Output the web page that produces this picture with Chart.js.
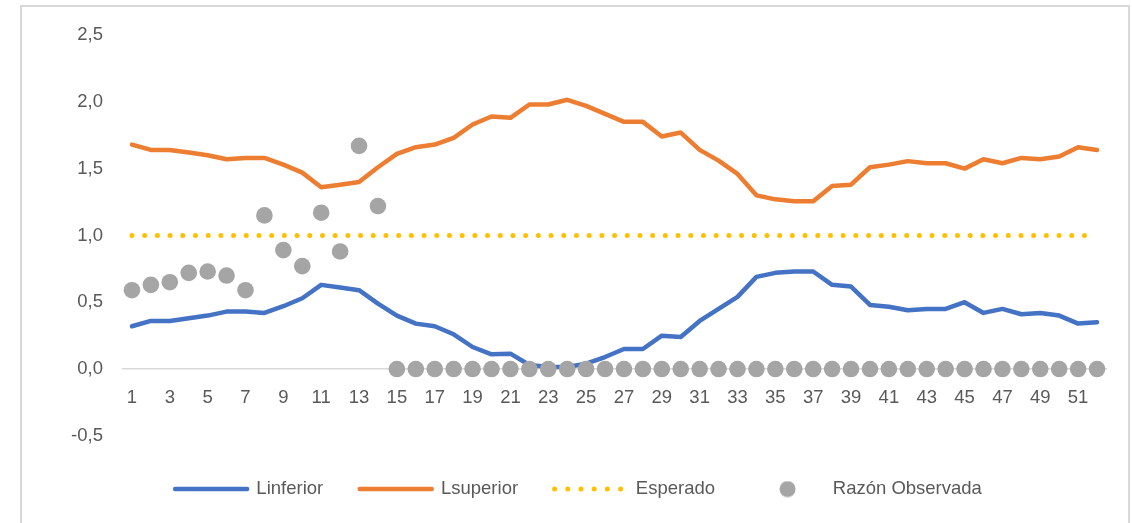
<!DOCTYPE html>
<html>
<head>
<meta charset="utf-8">
<script src="https://cdn.jsdelivr.net/npm/chart.js@4/dist/chart.umd.min.js"></script>
<style>
  html, body { margin: 0; padding: 0; background: #fff; }
  #wrap { position: relative; width: 1132px; height: 523px; overflow: hidden; }
  #frame { position: absolute; left: 20px; top: 5px; width: 1106px; height: 560px; border: 2px solid #D9D9D9; }
  #chart { position: absolute; left: 0; top: 0; }
</style>
</head>
<body>
<div id="wrap">
  <div id="frame"></div>
  <canvas id="chart" width="1132" height="523"></canvas>
</div>
<script>
// semanas 1..52
const semanas = [];
for (let i = 1; i <= 52; i++) semanas.push(String(i));

const lInferior = [
  0.32, 0.36, 0.36, 0.38, 0.40, 0.43, 0.43, 0.42, 0.47, 0.53,
  0.63, 0.61, 0.59, 0.49, 0.40, 0.34, 0.32, 0.26, 0.165, 0.11,
  0.115, 0.03, 0.015, 0.015, 0.04, 0.09, 0.15, 0.15, 0.25, 0.24,
  0.36, 0.45, 0.54, 0.69, 0.72, 0.73, 0.73, 0.63, 0.617, 0.48,
  0.466, 0.44, 0.45, 0.45, 0.50, 0.42, 0.45, 0.41, 0.42, 0.40,
  0.34, 0.35
];

const lSuperior = [
  1.68, 1.64, 1.64, 1.62, 1.60, 1.57, 1.58, 1.58, 1.53, 1.47,
  1.36, 1.38, 1.40, 1.51, 1.61, 1.66, 1.68, 1.73, 1.83, 1.89,
  1.88, 1.98, 1.98, 2.015, 1.97, 1.91, 1.85, 1.85, 1.74, 1.77,
  1.64, 1.56, 1.46, 1.30, 1.27, 1.256, 1.256, 1.37, 1.38, 1.51,
  1.53, 1.556, 1.54, 1.54, 1.50, 1.57, 1.54, 1.58, 1.57, 1.59,
  1.66, 1.64
];

const esperado = [
  1, 1, 1, 1, 1, 1, 1, 1, 1, 1,
  1, 1, 1, 1, 1, 1, 1, 1, 1, 1,
  1, 1, 1, 1, 1, 1, 1, 1, 1, 1,
  1, 1, 1, 1, 1, 1, 1, 1, 1, 1,
  1, 1, 1, 1, 1, 1, 1, 1, 1, 1,
  1, 1
];

const razonObservada = [
  0.59, 0.63, 0.65, 0.72, 0.73, 0.70, 0.59, 1.15, 0.89, 0.77,
  1.17, 0.88, 1.67, 1.22, 0, 0, 0, 0, 0, 0,
  0, 0, 0, 0, 0, 0, 0, 0, 0, 0,
  0, 0, 0, 0, 0, 0, 0, 0, 0, 0,
  0, 0, 0, 0, 0, 0, 0, 0, 0, 0,
  0, 0
];

const nombres = ['Linferior', 'Lsuperior', 'Esperado', 'Razón Observada'];
const yTicks = [-0.5, 0, 0.5, 1.0, 1.5, 2.0, 2.5];

const textColor = '#595959';
Chart.defaults.font.family = "'Liberation Sans', Arial, sans-serif";
Chart.defaults.font.size = 18.5;
Chart.defaults.color = textColor;

// little grey dot for the legend entry of the scatter series
const dot = document.createElement('canvas');
dot.width = 17; dot.height = 17;
const dctx = dot.getContext('2d');
dctx.fillStyle = '#A5A5A5';
dctx.beginPath();
dctx.arc(8.5, 8.5, 8, 0, Math.PI * 2);
dctx.fill();

new Chart(document.getElementById('chart'), {
  type: 'line',
  data: {
    labels: semanas,
    datasets: [
      {
        label: nombres[0], data: lInferior,
        borderColor: '#4472C4', backgroundColor: '#4472C4',
        borderWidth: 4.5, pointRadius: 0, tension: 0,
        borderCapStyle: 'round', borderJoinStyle: 'round', order: 1
      },
      {
        label: nombres[1], data: lSuperior,
        borderColor: '#ED7D31', backgroundColor: '#ED7D31',
        borderWidth: 4.5, pointRadius: 0, tension: 0,
        borderCapStyle: 'round', borderJoinStyle: 'round', order: 1
      },
      {
        label: nombres[2], data: esperado,
        borderColor: '#FFC000', backgroundColor: '#FFC000',
        borderWidth: 5, borderDash: [0, 12.7], pointRadius: 0,
        borderCapStyle: 'round', order: 1
      },
      {
        label: nombres[3], data: razonObservada,
        showLine: false, pointRadius: 8.3, pointHoverRadius: 8.3,
        pointBackgroundColor: '#A5A5A5', pointBorderWidth: 0,
        borderColor: '#A5A5A5', backgroundColor: '#A5A5A5', order: 0
      }
    ]
  },
  options: {
    responsive: false,
    animation: false,
    events: [],
    layout: { padding: { left: 50.5, right: 25.5, top: 35, bottom: 14.7 } },
    scales: {
      x: {
        position: { y: 0 },
        offset: true,
        grid: { display: false, drawTicks: false },
        border: { display: true, color: '#D9D9D9', width: 1.5 },
        ticks: {
          autoSkip: false, maxRotation: 0, padding: 18,
          callback: (v, i) => (i % 2 === 0 ? semanas[i] : '')
        }
      },
      y: {
        min: -0.5, max: 2.5,
        grid: { display: false, drawTicks: false },
        border: { display: false },
        afterFit: s => { s.width = 72; },
        afterBuildTicks: s => { s.ticks = yTicks.map(v => ({ value: v })); },
        ticks: {
          padding: 19.5,
          callback: v => v.toFixed(1).replace('.', ',')
        }
      }
    },
    plugins: {
      tooltip: { enabled: false },
      legend: {
        position: 'bottom',
        title: { display: true, text: '', font: { size: 7.45, lineHeight: 1 }, padding: 0 },
        labels: {
          usePointStyle: true,
          pointStyle: 'line',
          pointStyleWidth: 72,
          padding: 36.5,
          color: textColor,
          generateLabels: chart => {
            const items = Chart.defaults.plugins.legend.labels.generateLabels(chart);
            items.sort((a, b) => a.datasetIndex - b.datasetIndex);
            items.forEach(it => {
              const ds = chart.data.datasets[it.datasetIndex];
              it.lineCap = 'round';
              it.lineWidth = ds.borderWidth;
              it.strokeStyle = ds.borderColor;
              if (it.datasetIndex === 2) it.lineDash = [0, 13.2];
              if (it.datasetIndex === 3) it.pointStyle = dot;
            });
            return items;
          }
        }
      }
    }
  }
});
</script>
</body>
</html>
